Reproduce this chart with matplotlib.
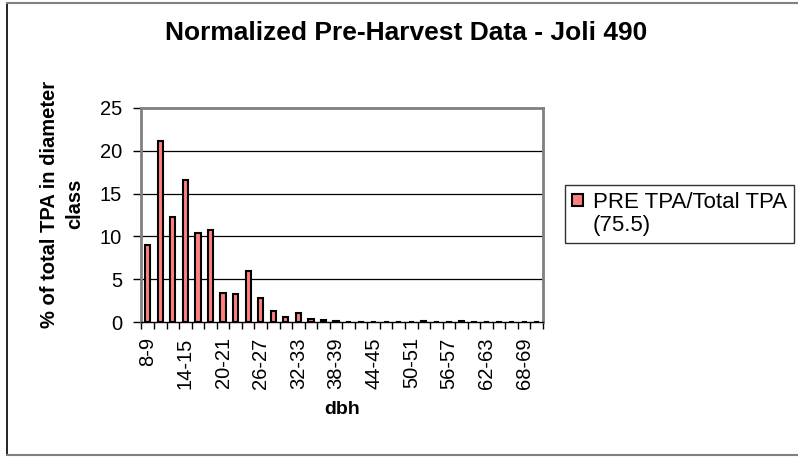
import matplotlib
matplotlib.use("Agg")
import matplotlib.pyplot as plt
from matplotlib.patches import Patch
from matplotlib.lines import Line2D

# diameter classes (dbh) and normalized pre-harvest share (%)
dbh_classes = ["8-9", "10-11", "12-13", "14-15", "16-17", "18-19", "20-21", "22-23",
               "24-25", "26-27", "28-29", "30-31", "32-33", "34-35", "36-37", "38-39",
               "40-41", "42-43", "44-45", "46-47", "48-49", "50-51", "52-53", "54-55",
               "56-57", "58-59", "60-61", "62-63", "64-65", "66-67", "68-69", "70-71"]
pre_share = [9.0, 21.2, 12.3, 16.6, 10.4, 10.8, 3.4, 3.3,
             6.0, 2.8, 1.3, 0.6, 1.0, 0.35, 0.23, 0.16,
             0, 0, 0, 0, 0, 0, 0.1, 0,
             0, 0.1, 0, 0, 0, 0, 0, 0]
y_ticks = [0, 5, 10, 15, 20, 25]
series_label = "PRE TPA/Total TPA\n(75.5)"

plt.rcParams['font.family'] = ['Liberation Sans', 'DejaVu Sans']

fig = plt.figure(figsize=(7.98, 4.57), dpi=100)
ax = fig.add_axes([0.1773, 0.2954, 0.5032, 0.4683])

x = list(range(len(dbh_classes)))
ax.bar(x, pre_share, width=0.42, color='#FF8080', edgecolor='black', linewidth=1.5, zorder=3)

ax.set_xlim(-0.5, len(dbh_classes) - 0.5)
ax.set_ylim(0, 25)
ax.set_yticks(y_ticks)
for v in y_ticks[1:-1]:
    ax.axhline(v, color='black', linewidth=0.9, zorder=1)

# category labels every 3rd class, tick marks between classes
ax.set_xticks(x[::3])
ax.set_xticklabels(dbh_classes[::3], rotation=90, fontsize=14.5)
ax.set_xticks([i - 0.5 for i in range(len(dbh_classes) + 1)], minor=True)
ax.tick_params(axis='x', which='major', length=0, pad=11)
ax.tick_params(axis='x', which='minor', length=5, width=1, direction='out')
ax.tick_params(axis='y', length=6, width=1, direction='out', labelsize=14.5, pad=8)

for side in ['top', 'right', 'left']:
    ax.spines[side].set_color('#808080')
    ax.spines[side].set_linewidth(2)
ax.spines['bottom'].set_color('black')
ax.spines['bottom'].set_linewidth(1)
ax.spines['bottom'].set_zorder(4)

ax.set_xlabel('dbh', fontsize=14, fontweight='bold', va='center')
ax.xaxis.set_label_coords(0.5, -0.41)
ax.set_ylabel('% of total TPA in diameter\nclass', fontsize=14.5, fontweight='bold',
              va='center', linespacing=1.4)
ax.yaxis.set_label_coords(-0.197, 0.55)

fig.text(0.509, 0.928, 'Normalized Pre-Harvest Data - Joli 490', ha='center', va='center',
         fontsize=19, fontweight='bold')

# legend: swatch sits beside the first line of the wrapped label
label_lines = series_label.split('\n')
handles = [Patch(facecolor='#FF8080', edgecolor='black', linewidth=1.5),
           Patch(facecolor='none', edgecolor='none')]
leg = fig.legend(handles, label_lines, loc='upper left', bbox_to_anchor=(0.708, 0.595),
                 fontsize=16, frameon=True, fancybox=False, handlelength=0.5, handleheight=0.5,
                 handletextpad=0.45, borderpad=0.3, labelspacing=0.1, borderaxespad=0)
leg.get_frame().set_edgecolor('black')
leg.get_frame().set_linewidth(1)

# chart area border
fig.add_artist(Line2D([7 / 798, 7 / 798], [1 - 3 / 457, 1 - 455 / 457], color='black', linewidth=1.2))
fig.add_artist(Line2D([7 / 798, 1], [1 - 3 / 457, 1 - 3 / 457], color='#808080', linewidth=1.5))
fig.add_artist(Line2D([7 / 798, 1], [1 - 455 / 457, 1 - 455 / 457], color='#808080', linewidth=1.5))

fig.savefig('out.png', dpi=100)
